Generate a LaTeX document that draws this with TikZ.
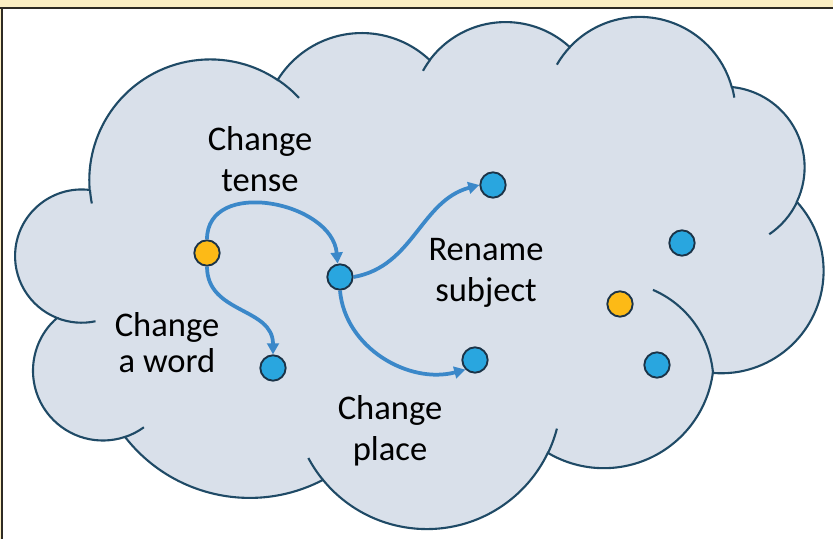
\documentclass[tikz,border=0pt]{standalone}
\usepackage{fontspec}
\setmainfont{Carlito}
\usetikzlibrary{arrows.meta}
\definecolor{cloudfill}{HTML}{D9E0EA}
\definecolor{cloudedge}{HTML}{1F4A66}
\definecolor{dotblue}{HTML}{29A6DF}
\definecolor{dotyellow}{HTML}{FDBA16}
\definecolor{dotedge}{HTML}{1B3347}
\definecolor{flowblue}{HTML}{3B88C9}
\definecolor{framebar}{HTML}{FCEFC3}
\definecolor{frameline}{HTML}{2E2B24}

\begin{document}
\begin{tikzpicture}[x=0.03cm,y=0.03cm,
    cloudline/.style={draw=cloudedge, line width=1.8pt},
    dot/.style={circle, draw=dotedge, line width=1.6pt, minimum size=0.76cm, inner sep=0pt},
    bluedot/.style={dot, fill=dotblue},
    yellowdot/.style={dot, fill=dotyellow},
    flow/.style={draw=flowblue, line width=3.2pt, -{Triangle[length=9.5pt,width=10pt]}},
    lbl/.style={align=center, inner sep=0pt, text=black,
                font=\fontsize{29.5}{35}\selectfont}]

  % ---- frame: white page, yellow bar on top, dark rule top and left ----
  \useasboundingbox (0,0) rectangle (833,539);
  \fill[white] (0,0) rectangle (833,539);
  \fill[framebar] (0,531) rectangle (833,539);
  \fill[framebar] (0,0) rectangle (1,531);
  \draw[frameline, line width=1.6pt] (0,531) -- (833,531);
  \draw[frameline, line width=1.6pt] (2.2,0) -- (2.2,531);

  % ---- the cloud: eleven lobes, each one a circle arc from cusp to cusp ----
  \coordinate (cA) at (90,349);   \coordinate (cB) at (57,221);
  \coordinate (cC) at (125,102);  \coordinate (cD) at (323,59);
  \coordinate (cE) at (548,86);   \coordinate (cF) at (713,166);
  \coordinate (cG) at (797,337);  \coordinate (cH) at (732,452);
  \coordinate (cI) at (570,492);  \coordinate (cJ) at (430,479);
  \coordinate (cK) at (278,459);
  \path[fill=cloudfill, cloudline] (cA)
    arc[start angle=82.8,  end angle=248.3, radius=66.6]   % left
    arc[start angle=131,   end angle=288.5, radius=69.85]  % lower left
    arc[start angle=217.85,end angle=297.65,radius=157.9]  % bottom left
    arc[start angle=219.3, end angle=334.4, radius=134.2]  % bottom middle
    arc[start angle=239.4, end angle=352.3, radius=110]    % bottom right
    arc[start angle=265.3, end angle=402.4, radius=102.4]  % right
    arc[start angle=-25.4, end angle=84.5,  radius=80.6]   % upper right
    arc[start angle=15.5,  end angle=136.8, radius=95.7]   % top right
    arc[start angle=47.4,  end angle=143.2, radius=94.8]   % top middle
    arc[start angle=46.6,  end angle=148.3, radius=98.9]   % top left
    arc[start angle=56.1,  end angle=184.55,radius=120.9]  % upper left
    -- cycle;

  % little tails where the lobes cross into the cloud
  \foreach \c/\a/\b/\r in {cA/184.55/191/120.9, cB/248.3/282/66.6,
                           cC/288.5/306/69.85, cD/219.3/208/134.2,
                           cE/334.4/345.5/134.2, cF/5/66.7/100,
                           cG/334.6/304/80.6, cH/15.5/9/95.7,
                           cI/136.8/150/95.7, cJ/143.2/151/94.8,
                           cK/56.1/43/120.9}{
    \draw[cloudline] (\c) arc[start angle=\a, end angle=\b, radius=\r];}

  % ---- sentences as points ----
  \node[yellowdot] (start) at (207,286) {};
  \node[bluedot]   (tense) at (340,262) {};
  \node[bluedot]   (word)  at (273,171) {};
  \node[bluedot]   (subj)  at (493,354) {};
  \node[bluedot]   (place) at (475,179) {};
  \node[bluedot]   (far1)  at (682,296) {};
  \node[yellowdot] (far2)  at (620,235) {};
  \node[bluedot]   (far3)  at (657,174) {};

  % ---- edits ----
  \draw[flow] (start.north) to[out=90, in=95, looseness=1.2] (tense.100);
  \draw[flow] (start.south) to[out=-90, in=90, looseness=1.1] (word.north);
  \draw[flow] (tense.east) to[out=10, in=195] (subj.west);
  \draw[flow] (tense.south) to[out=-85, in=195] (place.225);

  \node[lbl] (lbtense) at (260,380) {Change\\tense};
  \node[lbl, font=\fontsize{29.5}{30.5}\selectfont] (lbword) at (167,196) {Change\\a word};
  \node[lbl] (lbsubj)  at (486,266) {Rename\\subject};
  \node[lbl] (lbplace) at (390,108) {Change\\place};
\end{tikzpicture}
\end{document}
